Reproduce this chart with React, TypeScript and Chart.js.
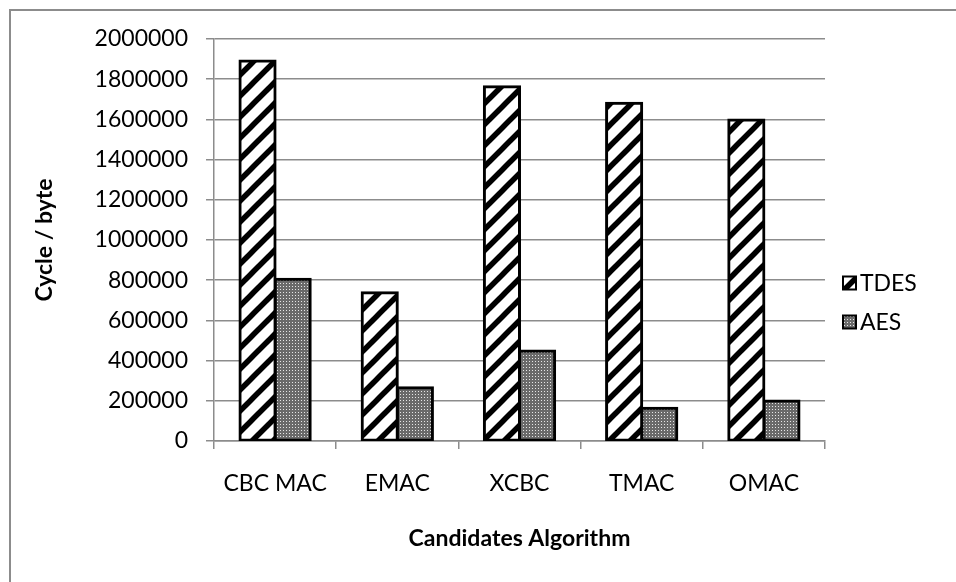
import React, { useEffect, useRef } from "react";
import { Chart, registerables } from "chart.js";

Chart.register(...registerables);

const categories = ["CBC MAC", "EMAC", "XCBC", "TMAC", "OMAC"];
const seriesNames = ["TDES", "AES"];
const tdesValues = [1890000, 738000, 1762000, 1680000, 1597000];
const aesValues = [805000, 265000, 448000, 163000, 199000];
const yMin = 0;
const yMax = 2000000;
const yStep = 200000;
const xTitle = "Candidates Algorithm";
const yTitle = "Cycle / byte";

const FONT = "Lato, 'Open Sans', sans-serif";
const GRID = "#8c8c8c";

function makeStripePattern(): CanvasPattern | string {
  const s = 21;
  const c = document.createElement("canvas");
  c.width = s;
  c.height = s;
  const g = c.getContext("2d");
  if (!g) return "#fff";
  g.fillStyle = "#ffffff";
  g.fillRect(0, 0, s, s);
  g.strokeStyle = "#000000";
  g.lineWidth = 5.5;
  for (const o of [-s, 0, s]) {
    g.beginPath();
    g.moveTo(o - 5, s + 5);
    g.lineTo(o + s + 5, -5);
    g.stroke();
  }
  const p = g.createPattern(c, "repeat");
  return p || "#fff";
}

function makeDotPattern(): CanvasPattern | string {
  const s = 3;
  const c = document.createElement("canvas");
  c.width = s;
  c.height = s;
  const g = c.getContext("2d");
  if (!g) return "#888";
  g.fillStyle = "#6a6a6a";
  g.fillRect(0, 0, s, s);
  g.fillStyle = "#e6e6e6";
  g.fillRect(1, 1, 1, 1);
  const p = g.createPattern(c, "repeat");
  return p || "#888";
}

const frameBorder = {
  id: "frameBorder",
  beforeDraw(chart: any) {
    const ctx = chart.ctx;
    ctx.save();
    ctx.strokeStyle = "#8c8c8c";
    ctx.lineWidth = 2;
    ctx.beginPath();
    ctx.moveTo(10, chart.height + 5);
    ctx.lineTo(10, 10);
    ctx.lineTo(chart.width + 5, 10);
    ctx.stroke();
    ctx.restore();
  },
};

const sideLegend = {
  id: "sideLegend",
  afterDraw(chart: any) {
    const ctx = chart.ctx;
    const area = chart.chartArea;
    const x0 = area.right + 18;
    const rows = [area.top + 244, area.top + 283];
    ctx.save();
    chart.data.datasets.forEach((ds: any, i: number) => {
      const y = rows[i];
      ctx.fillStyle = ds.backgroundColor;
      ctx.fillRect(x0, y - 6.5, 13, 13);
      ctx.strokeStyle = "#000";
      ctx.lineWidth = 2;
      ctx.strokeRect(x0, y - 6.5, 13, 13);
      ctx.fillStyle = "#000";
      ctx.font = `23px ${FONT}`;
      ctx.textBaseline = "middle";
      ctx.textAlign = "left";
      ctx.fillText(ds.label, x0 + 17, y + 1);
    });
    ctx.restore();
  },
};

export default function App() {
  const ref = useRef<HTMLCanvasElement | null>(null);

  useEffect(() => {
    if (!ref.current) return;
    const stripes = makeStripePattern();
    const dots = makeDotPattern();
    const chart = new Chart(ref.current, {
      type: "bar",
      data: {
        labels: categories,
        datasets: [
          {
            label: seriesNames[0],
            data: tdesValues,
            backgroundColor: stripes as any,
            borderColor: "#000",
            borderWidth: 3,
            borderSkipped: false,
            inflateAmount: 1.5,
          } as any,
          {
            label: seriesNames[1],
            data: aesValues,
            backgroundColor: dots as any,
            borderColor: "#000",
            borderWidth: 3,
            borderSkipped: false,
            inflateAmount: 1.5,
          } as any,
        ],
      },
      options: {
        responsive: false,
        animation: false,
        devicePixelRatio: 1,
        layout: { padding: { left: 0, top: 39, right: 131, bottom: 0 } },
        datasets: { bar: { categoryPercentage: 0.575, barPercentage: 1 } },
        plugins: {
          legend: { display: false },
          tooltip: { enabled: false },
        },
        scales: {
          x: {
            grid: {
              drawOnChartArea: false,
              drawTicks: true,
              tickLength: 8,
              color: GRID,
              lineWidth: 1.5,
            },
            border: { color: GRID, width: 1.5 },
            ticks: {
              color: "#000",
              font: { family: FONT, size: 23 },
              padding: 21,
              maxRotation: 0,
            },
            title: {
              display: true,
              text: xTitle,
              color: "#000",
              font: { family: FONT, size: 23, weight: "bold" },
              padding: { top: 0, bottom: 30 },
            },
            afterFit: (s: any) => {
              s.height = 141;
            },
          },
          y: {
            min: yMin,
            max: yMax,
            grid: {
              color: GRID,
              lineWidth: 1.5,
              tickLength: 8,
            },
            border: { color: GRID, width: 1.5 },
            ticks: {
              stepSize: yStep,
              color: "#000",
              font: { family: FONT, size: 23 },
              padding: 18,
              callback: (v: any) => String(v),
            },
            title: {
              display: true,
              text: yTitle,
              color: "#000",
              font: { family: FONT, size: 23, weight: "bold" },
              padding: { top: 31, bottom: 0 },
            },
            afterFit: (s: any) => {
              s.width = 214;
            },
          },
        },
      } as any,
      plugins: [frameBorder, sideLegend],
    });
    return () => chart.destroy();
  }, []);

  return (
    <div style={{ position: "fixed", left: 0, top: 0, width: 956, height: 582, background: "#fff" }}>
      <canvas ref={ref} width={956} height={582} style={{ display: "block", width: 956, height: 582 }} />
    </div>
  );
}
